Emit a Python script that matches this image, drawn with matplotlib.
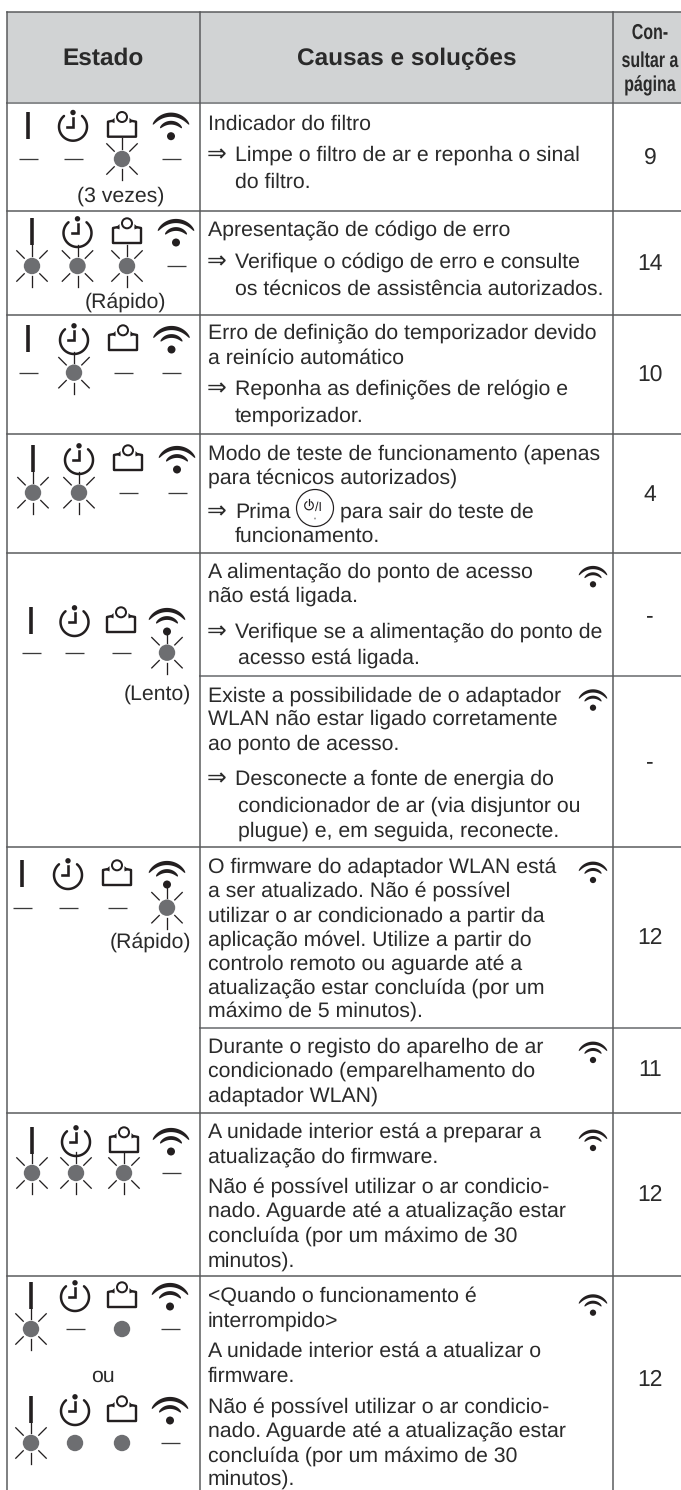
import numpy as np
import matplotlib
matplotlib.use('Agg')
import matplotlib.pyplot as plt
from matplotlib.patches import Circle
from matplotlib.patheffects import AbstractPathEffect
from matplotlib.transforms import Affine2D

# Table content
HEADERS = ['Estado', 'Causas e soluções']
PAGE_HEADER = ['Con-', 'sultar a', 'página']
PAGES = ['9', '14', '10', '4', '-', '-', '12', '11', '12', '12']

# one string per LED row: - off, * blinking, o lit
STATES = ['--*-', '***-', '-*--', '**--', '---*', '---*', '***-', '*-o-', '*oo-']
STATE_NOTES = ['(3 vezes)', '(Rápido)', '(Lento)', '(Rápido)', 'ou']

CAUSES = [
    'Indicador do filtro',
    '⇒Limpe o filtro de ar e reponha o sinal',
    '  do filtro.',
    'Apresentação de código de erro',
    '⇒Verifique o código de erro e consulte',
    '  os técnicos de assistência autorizados.',
    'Erro de definição do temporizador devido',
    'a reinício automático',
    '⇒Reponha as definições de relógio e',
    '  temporizador.',
    'Modo de teste de funcionamento (apenas',
    'para técnicos autorizados)',
    '⇒Prima',
    '  funcionamento.',
    'A alimentação do ponto de acesso',
    'não está ligada.',
    '⇒Verifique se a alimentação do ponto de',
    '  acesso está ligada.',
    'Existe a possibilidade de o adaptador',
    'WLAN não estar ligado corretamente',
    'ao ponto de acesso.',
    '⇒Desconecte a fonte de energia do',
    '  condicionador de ar (via disjuntor ou',
    '  plugue) e, em seguida, reconecte.',
    'O firmware do adaptador WLAN está',
    'a ser atualizado. Não é possível',
    'utilizar o ar condicionado a partir da',
    'aplicação móvel. Utilize a partir do',
    'controlo remoto ou aguarde até a',
    'atualização estar concluída (por um',
    'máximo de 5 minutos).',
    'Durante o registo do aparelho de ar',
    'condicionado (emparelhamento do',
    'adaptador WLAN)',
    'A unidade interior está a preparar a',
    'atualização do firmware.',
    'Não é possível utilizar o ar condicio-',
    'nado. Aguarde até a atualização estar',
    'concluída (por um máximo de 30',
    'minutos).',
    '<Quando o funcionamento é',
    'interrompido>',
    'A unidade interior está a atualizar o',
    'firmware.',
    'Não é possível utilizar o ar condicio-',
    'nado. Aguarde até a atualização estar',
    'concluída (por um máximo de 30',
    'minutos).',
]

# Layout, in pixels of the 681x1490 page
BASELINES = [130, 160.5, 188, 236, 268, 295, 339, 364, 395, 421.5, 460, 484, 518, 541.5,
             577.5, 601.5, 638, 664, 701.5, 725, 750, 785, 811.5, 836.5,
             873, 897, 921.5, 946, 970, 993.5, 1017, 1053, 1077, 1101.5,
             1138, 1162.5, 1193, 1217, 1241.5, 1266.5,
             1302, 1326.5, 1357, 1381.5, 1413, 1437, 1461.5, 1485]
FULL_LINES = [11.5, 103, 211, 314.7, 433.5, 552.7, 847.3, 1112.5, 1276]
CAUSE_LINES = [675.7, 1028]
PAGE_Y = [158, 264, 375, 495, 616, 762.5, 938, 1070.5, 1195, 1380]
LEFT, COL1, COL2, RIGHT = 7, 199.5, 613.3, 681

ICON_X = [(28, 73, 122, 171), (32, 77.5, 127, 176), (28, 74, 123, 171.5),
          (33, 79, 128, 177), (31, 74.5, 121, 167), (22, 68, 117, 167),
          (32, 76, 124, 171), (31, 75, 122, 170), (31, 75, 122, 170)]
ICON_Y = [126.7, 233, 340, 460, 622, 875, 1142, 1297, 1411]
STATE_Y = [159, 266, 372.7, 492.7, 652.7, 907.7, 1173, 1329, 1443]
NOTE_POS = [(121, 196), (125, 302), (157, 694), (150, 942), (103, 1376)]
SMALL_WIFI = [(593, 584.3), (593, 707.7), (593, 880), (593, 1060), (593, 1148), (593, 1312.7)]

INK = '#231f20'
TEXT = '#2a2a2a'
GREY = '#6d6e71'
RULE = '#58595b'
FS = 15.3
plt.rcParams['font.family'] = ['Liberation Sans', 'DejaVu Sans']
plt.rcParams['text.hinting'] = 'no_hinting'
plt.rcParams['text.hinting_factor'] = 8


class Tall(AbstractPathEffect):
    # stretches the glyphs upward from the baseline, for the condensed header
    def __init__(self, factor):
        super().__init__()
        self.factor = factor

    def draw_path(self, renderer, gc, tpath, affine, rgbFace=None):
        renderer.draw_path(gc, tpath, Affine2D().scale(1, self.factor) + affine, rgbFace)


def px(w):
    return w * 0.72


def draw_bar(ax, x, y):
    ax.plot([x, x], [y - 14.7, y + 12.3], color=INK, lw=px(3.6), solid_capstyle='butt')


def draw_clock(ax, x, y):
    t = np.radians(np.linspace(-230, 50, 60))
    ax.plot(x + 14 * np.cos(t), y - 14 * np.sin(t), color=INK, lw=px(2.5), solid_capstyle='round')
    ax.add_patch(Circle((x, y - 14.2), 2.7, color=INK, lw=0))
    ax.plot([x, x, x - 6], [y - 9, y, y], color=INK, lw=px(2.6), solid_joinstyle='miter')


def draw_filter(ax, x, y):
    ax.plot([x - 9, x - 14, x - 14, x + 14, x + 14, x + 9],
            [y - 6, y - 5, y + 10, y + 10, y - 5, y - 6], color=INK, lw=px(2.4), solid_joinstyle='round')
    ax.fill([x - 11, x - 7.5, x - 7.5], [y - 5, y - 9, y - 3.5], color=INK, lw=0)
    ax.fill([x + 11, x + 7.5, x + 7.5], [y - 5, y - 9, y - 3.5], color=INK, lw=0)
    ax.add_patch(Circle((x, y - 9.7), 5, fill=False, ec=INK, lw=px(2)))


def draw_wifi(ax, x, y, s=1.0):
    # y is the centre of the dot
    ax.add_patch(Circle((x, y), 4 * s, color=INK, lw=0))
    for r, w, half in [(21.5, 4.2, 58), (13.5, 3.8, 54)]:
        t = np.radians(np.linspace(-half, half, 40))
        taper = np.cos(t / np.radians(half) * np.pi / 2) ** 0.45
        ro = (r + w / 2 * taper) * s
        ri = (r - w / 2 * taper) * s
        ax.fill(np.r_[x + ro * np.sin(t), x + ri[::-1] * np.sin(t[::-1])],
                np.r_[y - ro * np.cos(t), y - ri[::-1] * np.cos(t[::-1])], color=INK, lw=0)


def draw_state(ax, x, y, kind):
    if kind == '-':
        ax.plot([x - 9.5, x + 9.5], [y, y], color='#3a3a3a', lw=px(1.3), solid_capstyle='butt')
        return
    ax.add_patch(Circle((x, y), 8.2, color=GREY, lw=0))
    if kind == '*':
        for a in [90, 270]:
            c, d = np.cos(np.radians(a)), np.sin(np.radians(a))
            ax.plot([x + 10 * c, x + 21 * c], [y + 10 * d, y + 21 * d], color=INK, lw=px(1.3))
        for a in [45, 135, 225, 315]:
            c, d = np.cos(np.radians(a)), np.sin(np.radians(a))
            ax.plot([x + 11 * c, x + 21.5 * c], [y + 11 * d, y + 21.5 * d], color=INK, lw=px(1.3))


fig = plt.figure(figsize=(6.81, 14.90), dpi=100)
ax = fig.add_axes([0, 0, 1, 1])
ax.set_xlim(0, 681)
ax.set_ylim(1490, 0)
ax.axis('off')

# Header band and rules
ax.fill([LEFT, RIGHT, RIGHT, LEFT], [11.5, 11.5, 103, 103], color='#d1d3d4', lw=0)
for y in FULL_LINES:
    ax.plot([LEFT, RIGHT], [y, y], color='#8a8c8e' if y == 103 else RULE, lw=px(1.5 if y != 103 else 2))
for y in CAUSE_LINES:
    ax.plot([COL1, RIGHT], [y, y], color='#8a8c8e', lw=px(2))
for x in [LEFT, COL1, COL2]:
    ax.plot([x, x], [11.5, 1490], color=RULE, lw=px(1.5))

ax.text(103.5, 59, HEADERS[0], fontsize=17.6, weight='bold', color=TEXT, ha='center', va='center')
ax.text(406.5, 59, HEADERS[1], fontsize=17.6, weight='bold', color=TEXT, ha='center', va='center')
for line, y in zip(PAGE_HEADER, [39, 67, 91]):
    ax.text(650, y, line, fontsize=11.5, weight='bold', color=TEXT, ha='center', va='baseline',
            path_effects=[Tall(1.35)])

# Cause text
for line, y in zip(CAUSES, BASELINES):
    if line.startswith('⇒'):
        ax.text(207, y + 0.5, '⇒', fontsize=17, color=TEXT, family=['DejaVu Sans'], va='baseline')
        ax.text(235, y, line[1:], fontsize=FS, color=TEXT, va='baseline')
    elif line.startswith('  '):
        x = 238 if y in (664, 811.5, 836.5) else 235
        ax.text(x, y, line[2:], fontsize=FS, color=TEXT, va='baseline')
    else:
        ax.text(207.5, y, line, fontsize=FS, color=TEXT, va='baseline')
ax.text(340, 518, 'para sair do teste de', fontsize=FS, color=TEXT, va='baseline')

# Power button drawn inline with the text
ax.add_patch(Circle((315, 508), 18.5, fill=False, ec=INK, lw=px(1.2)))
t = np.radians(np.linspace(-240, 60, 30))
ax.plot(309 + 4.3 * np.cos(t), 505.5 - 4.3 * np.sin(t), color=INK, lw=px(1.2))
ax.plot([309, 309], [499, 505], color=INK, lw=px(1.2))
ax.text(318.5, 510.5, '/I', fontsize=9, color=INK, va='baseline', ha='center')
ax.add_patch(Circle((315, 518.5), 1, color='#a0a0a0', lw=0))

# Page numbers
for page, y in zip(PAGES, PAGE_Y):
    ax.text(650, y, page, fontsize=16.5, color=TEXT, ha='center', va='center')

# LED icons
for state, xs, y, sy in zip(STATES, ICON_X, ICON_Y, STATE_Y):
    draw_bar(ax, xs[0], y)
    draw_clock(ax, xs[1], y)
    draw_filter(ax, xs[2], y)
    draw_wifi(ax, xs[3], y + 9.5)
    for kind, x in zip(state, xs):
        draw_state(ax, x, sy, kind)
for note, (x, y) in zip(STATE_NOTES, NOTE_POS):
    ax.text(x, y, note, fontsize=FS, color=TEXT, ha='center', va='center')
for x, y in SMALL_WIFI:
    draw_wifi(ax, x, y, 0.78)

fig.savefig('out.png', dpi=100)
